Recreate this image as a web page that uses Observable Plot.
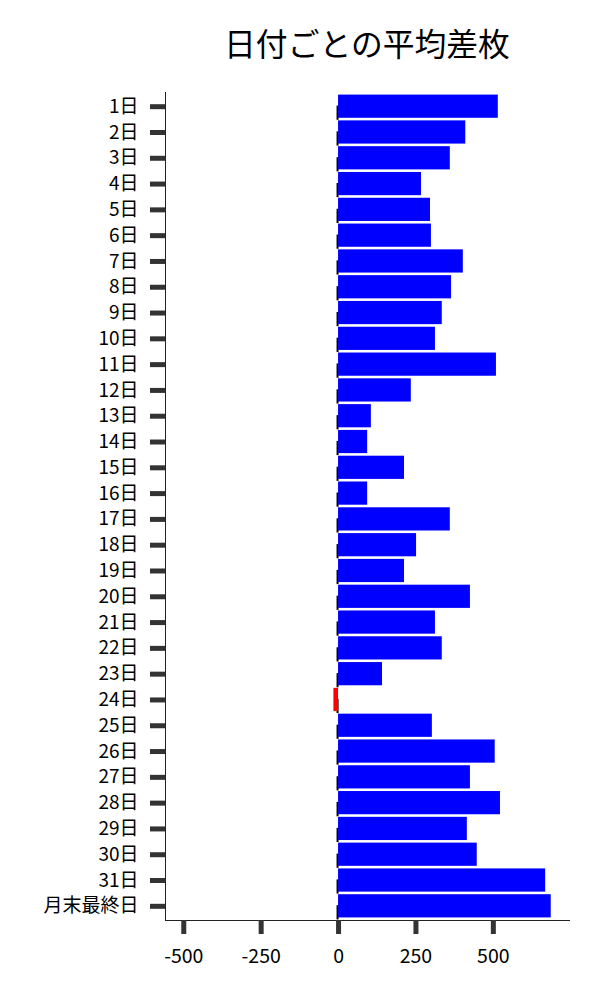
<!DOCTYPE html>
<html>
<head>
<meta charset="utf-8">
<script src="https://cdn.jsdelivr.net/npm/d3@7"></script>
<script src="https://cdn.jsdelivr.net/npm/@observablehq/plot@0.6"></script>
<style>
  html, body { margin: 0; padding: 0; background: #fff; }
  #title { width: 600px; height: 72px; box-sizing: border-box; padding-left: 134px; text-align: center;
           font-family: "Noto Sans CJK JP", sans-serif; font-size: 31.8px; line-height: 84px; color: #000; }
</style>
</head>
<body>
<div id="title">日付ごとの平均差枚</div>
<div id="chart"></div>
<script>
const days = ["1日","2日","3日","4日","5日","6日","7日","8日","9日","10日","11日","12日","13日","14日","15日","16日","17日","18日","19日","20日","21日","22日","23日","24日","25日","26日","27日","28日","29日","30日","31日","月末最終日"];
const values = [516,411,361,268,297,300,403,365,335,313,510,235,106,94,213,94,361,252,213,426,313,335,142,-15,303,506,426,523,416,448,669,687];
const xTicks = [-500,-250,0,250,500];
const xDomain = [-559, 746];

const data = days.map((d, i) => ({day: d, value: values[i]}));
const font = '"Noto Sans CJK JP", sans-serif';

const chart = Plot.plot({
  width: 600,
  height: 928,
  marginTop: 20,
  marginBottom: 80,
  marginLeft: 165,
  marginRight: 31,
  style: {fontFamily: font, fontSize: "19px", color: "#000", background: "#fff"},
  x: {domain: xDomain},
  y: {domain: days, padding: 0.1, round: false},
  color: {type: "identity"},
  marks: [
    Plot.frame({anchor: "left", stroke: "#222"}),
    Plot.frame({anchor: "bottom", stroke: "#222"}),
    Plot.tickX(data, {x: 0, y: "day", stroke: "#000", strokeWidth: 2, insetTop: 11, insetBottom: -2, dx: -1}),
    Plot.barX(data, {x: "value", y: "day", fill: d => d.value < 0 ? "#ff0000" : "#0000ff"}),
    Plot.axisX({ticks: xTicks, tickFormat: d => String(d), tickSize: 14, tickPadding: 15, strokeWidth: 5, stroke: "#333", fill: "#000", fontSize: "19.5px", label: null}),
    Plot.axisY({tickSize: 15, tickPadding: 12, strokeWidth: 5, stroke: "#333", fill: "#000", label: null})
  ]
});
document.getElementById("chart").appendChild(chart);
</script>
</body>
</html>
